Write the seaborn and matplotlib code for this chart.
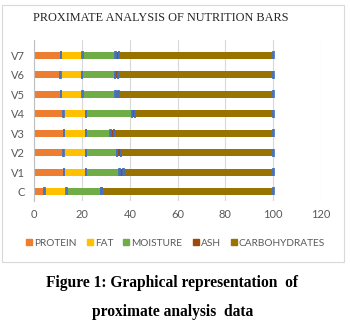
import matplotlib
matplotlib.use("Agg")
import matplotlib.pyplot as plt
import seaborn as sns
import pandas as pd
import numpy as np
from matplotlib.patches import Rectangle
from matplotlib.lines import Line2D

samples = ["V7", "V6", "V5", "V4", "V3", "V2", "V1", "C"]
protein = [11.1, 10.9, 11.1, 12.3, 12.5, 12.3, 12.4, 4.3]
fat = [9.1, 9.0, 9.1, 9.4, 9.2, 9.4, 9.3, 9.2]
moisture = [13.8, 13.8, 13.8, 19.2, 10.2, 13.0, 13.9, 14.5]
ash = [1.5, 1.4, 1.3, 1.3, 1.5, 1.6, 1.7, 0.4]
carbs = [64.5, 64.9, 64.7, 57.8, 66.6, 63.7, 62.7, 71.6]
components = ["PROTEIN", "FAT", "MOISTURE", "ASH", "CARBOHYDRATES"]
colors = ["#ED7D31", "#FFC000", "#70AD47", "#9E480E", "#997300"]
xticks = [0, 20, 40, 60, 80, 100, 120]

df = pd.DataFrame({"sample": samples, "PROTEIN": protein, "FAT": fat,
                   "MOISTURE": moisture, "ASH": ash, "CARBOHYDRATES": carbs})
cum = df[components].cumsum(axis=1)

sns.set_style("white")
fig = plt.figure(figsize=(3.5, 3.23), dpi=100)
ax = fig.add_axes([34.3/350, 1-201/323, (321-34.3)/350, (201-40.5)/323])

for comp, col in reversed(list(zip(components, colors))):
    sns.barplot(x=cum[comp], y=df["sample"], order=samples, orient="h",
                color=col, width=0.36, ax=ax, saturation=1, linewidth=0)

ypos = np.arange(len(samples))
for comp in components:
    ax.errorbar(cum[comp], ypos, xerr=0.12, fmt="none", ecolor="#4472C4",
                elinewidth=0.8, capsize=2.6, capthick=1.2, zorder=5)

ax.set_xlim(0, 120)
ax.set_ylim(7.49, -0.77)
ax.set_xticks(xticks)
ax.set_xlabel("")
ax.set_ylabel("")
ax.xaxis.grid(True, color="#D9D9D9", linewidth=0.8)
ax.set_axisbelow(True)
for s in ["top", "right", "bottom"]:
    ax.spines[s].set_visible(False)
ax.spines["left"].set_color("#BFBFBF")
ax.spines["left"].set_linewidth(0.8)
ax.tick_params(axis="both", length=0, colors="#595959", labelsize=8)
ax.tick_params(axis="y", pad=7)
ax.tick_params(axis="x", pad=6)
for lab in ax.get_xticklabels() + ax.get_yticklabels():
    lab.set_family("Lato")

handles = [Line2D([], [], marker="s", linestyle="none", markersize=4.5,
                  markerfacecolor=c, markeredgecolor=c) for c in colors]
leg = fig.legend(handles, components, loc="center", ncol=5,
                 bbox_to_anchor=(0.5, 1-243/323), frameon=False,
                 handletextpad=0.1, columnspacing=0.9, handlelength=0.8,
                 prop={"family": "Lato", "size": 7.3})
for t in leg.get_texts():
    t.set_color("#595959")

fig.patches.append(Rectangle((2/350, 1-262/323), 342/350, 257/323,
                             transform=fig.transFigure, fill=False,
                             edgecolor="#D9D9D9", linewidth=0.8))

fig.text(161/350, 1-18/323, "PROXIMATE ANALYSIS OF NUTRITION BARS",
         ha="center", va="center", family="Liberation Serif", size=8.8,
         color="#262626")
fig.text(172.5/350, 1-287/323, "Figure 1: Graphical representation  of",
         ha="center", va="baseline", family="Liberation Serif", size=11.2,
         weight="bold", color="black")
fig.text(172.5/350, 1-316/323, "proximate analysis  data",
         ha="center", va="baseline", family="Liberation Serif", size=11.2,
         weight="bold", color="black")

fig.savefig("out.png", dpi=100)
